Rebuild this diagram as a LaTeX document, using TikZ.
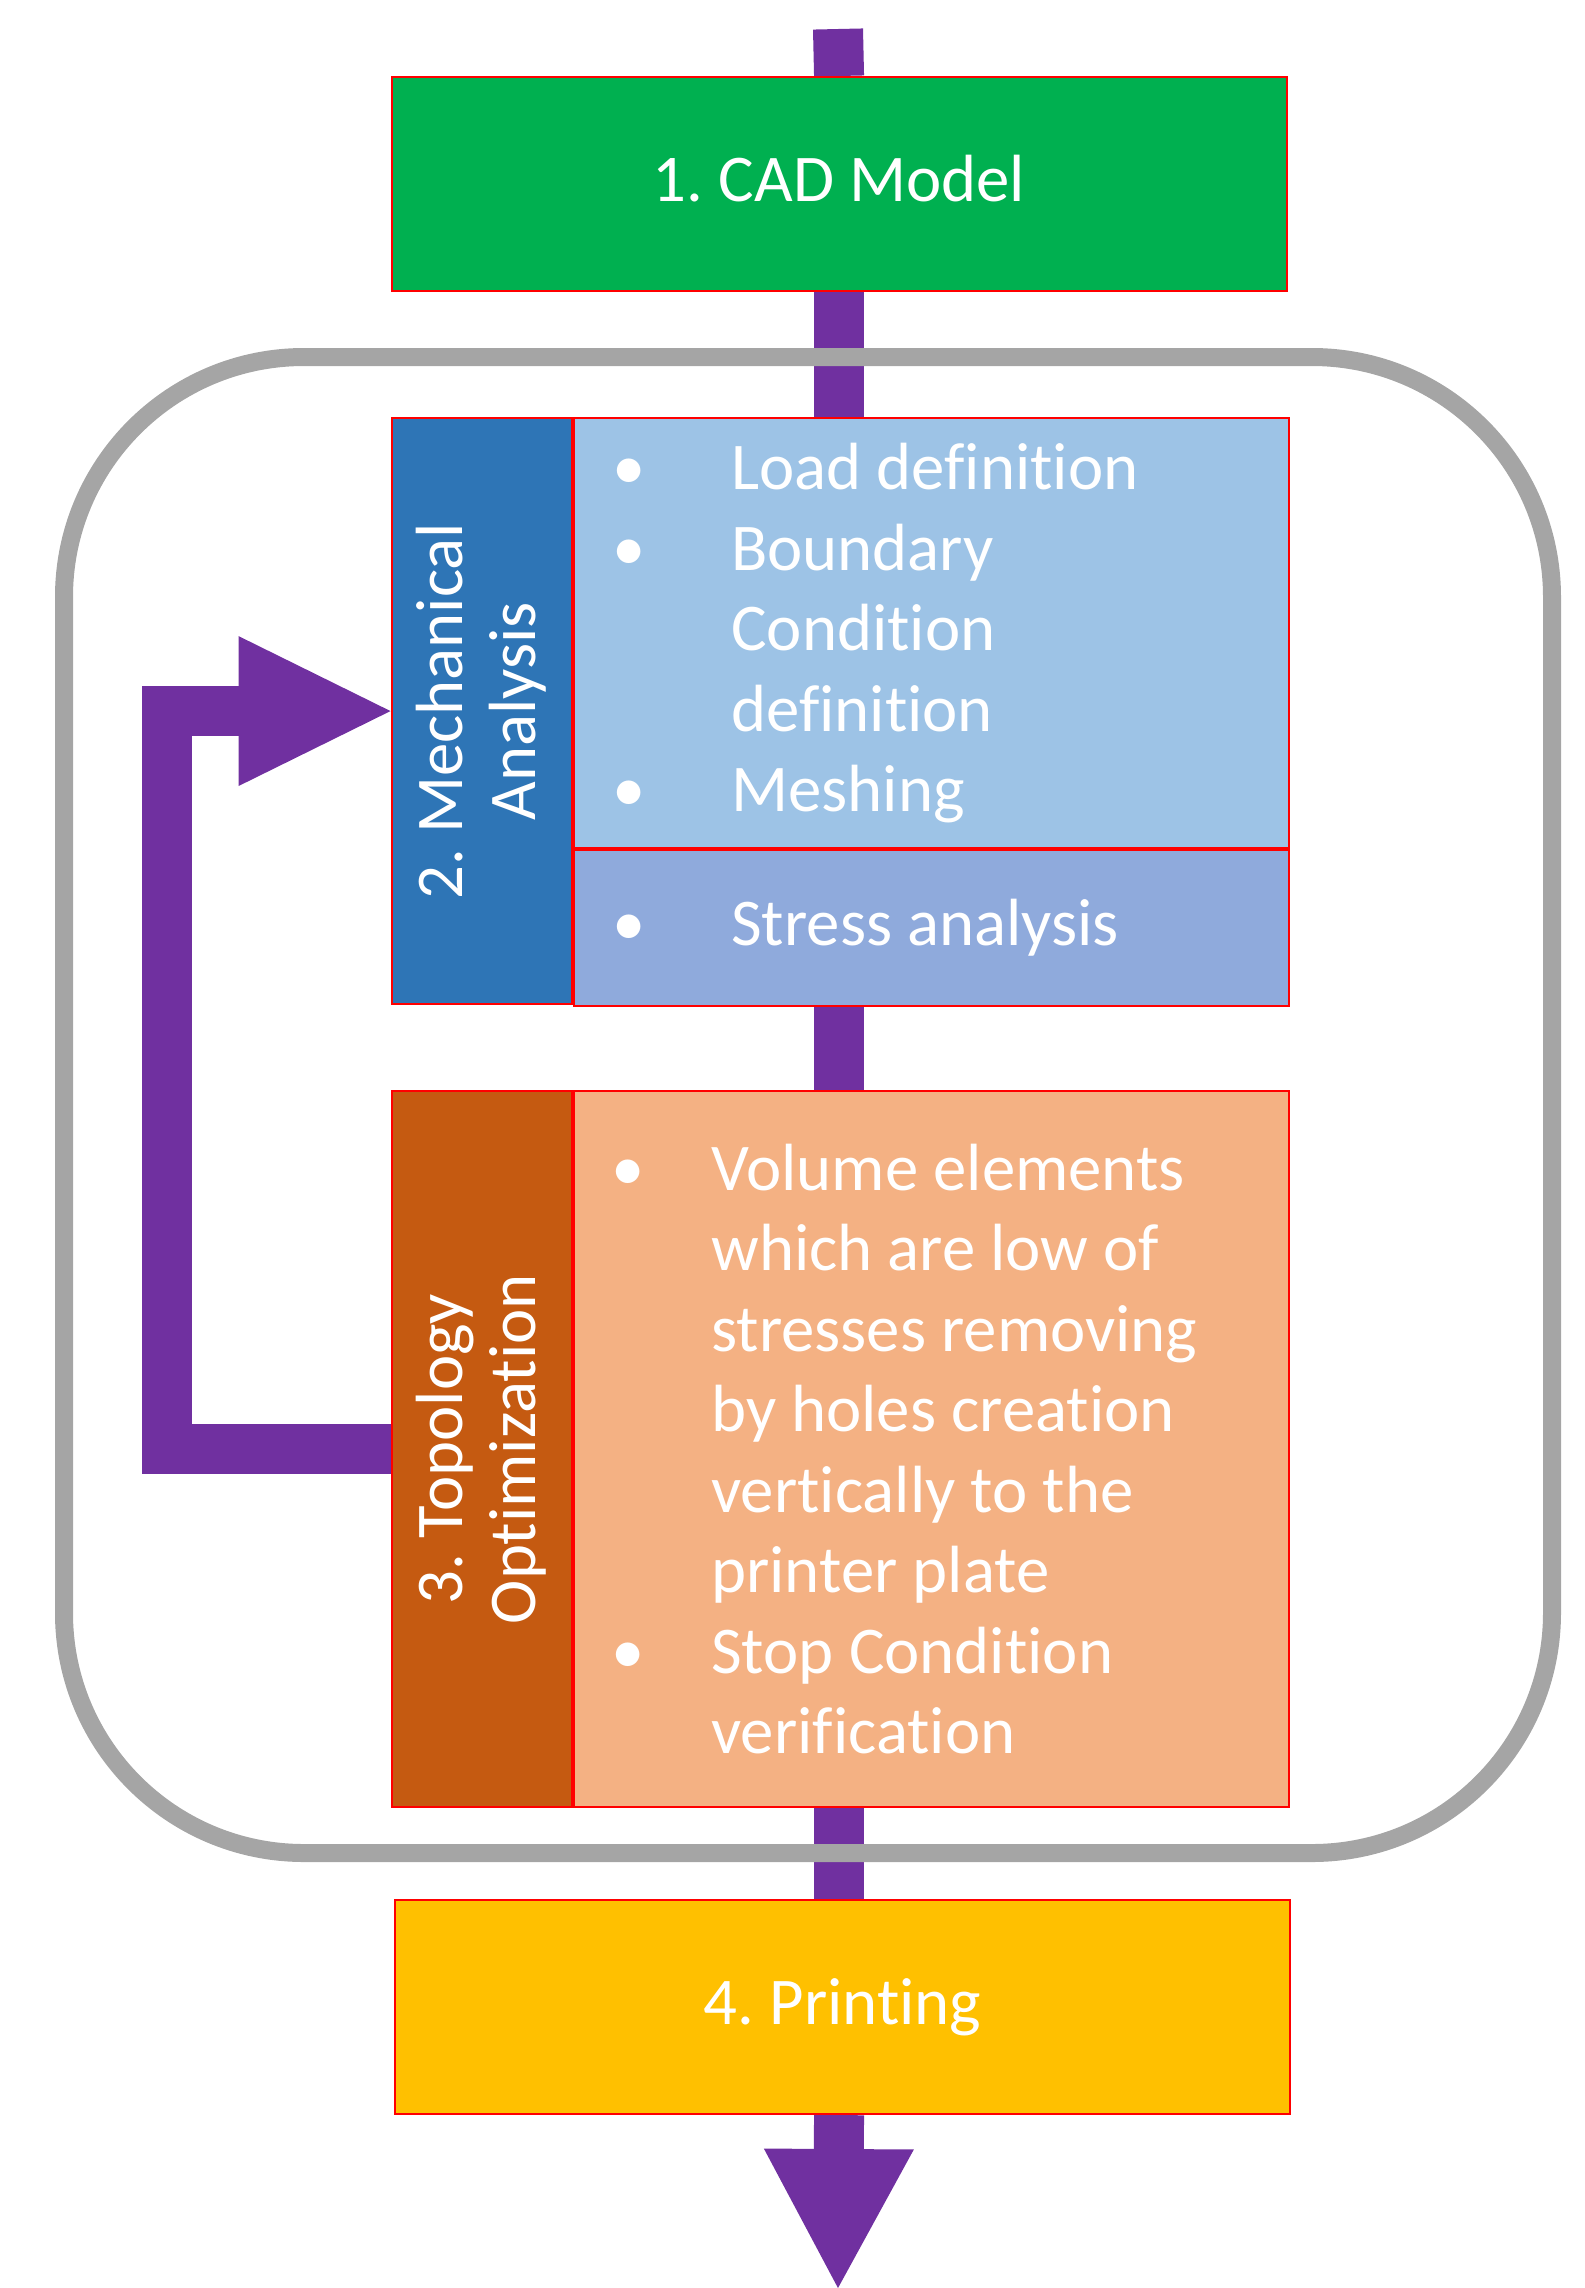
\documentclass[tikz,border=0pt]{standalone}
\usepackage{fontspec}
\setmainfont[Ligatures=NoCommon]{Carlito}
\usetikzlibrary{arrows.meta,positioning,backgrounds}
\frenchspacing

\definecolor{cadgreen}{HTML}{00B050}
\definecolor{mechblue}{HTML}{2E75B6}
\definecolor{loadblue}{HTML}{9DC3E6}
\definecolor{stressblue}{HTML}{8FAADC}
\definecolor{topoorange}{HTML}{C55A11}
\definecolor{holesorange}{HTML}{F4B183}
\definecolor{printyellow}{HTML}{FFC000}
\definecolor{flowpurple}{HTML}{7030A0}
\definecolor{framegray}{HTML}{A5A5A5}

% bullet hanging left of the item text
\newcommand{\itm}[1]{\llap{\makebox[0pt]{\textbullet}\hspace{#1}}}

\tikzset{
    stage/.style={draw=red, line width=0.6pt, rectangle, inner sep=0pt, anchor=north west, text=white},
    titled/.style={text height=0.55cm, text depth=0.21cm},
    sidelabel/.style={rotate=90, align=center, text=white, font=\fontsize{19}{20.8}\selectfont},
    items/.style={align=left, text=white, inner sep=0pt, anchor=west},
    flow/.style={draw=flowpurple, line width=5mm},
}

\begin{document}
\begin{tikzpicture}[font=\fontsize{19}{22.9}\selectfont]
    \useasboundingbox (0,0) rectangle (15.85,-22.88);

    %% stages
    \node[stage, titled, fill=cadgreen, minimum width=8.95cm, minimum height=2.14cm](cad) at (3.905,-0.76){1. CAD Model};

    \node[stage, fill=mechblue, minimum width=1.80cm, minimum height=5.86cm, label={[sidelabel]center:2. Mechanical\\Analysis}](mech) at (3.905,-4.17){};
    \node[stage, fill=loadblue, minimum width=7.15cm, minimum height=4.30cm](load) at (mech.north east){};
    \node[stage, fill=stressblue, minimum width=7.15cm, minimum height=1.56cm](stress) at (load.south west){};

    \node[stage, fill=topoorange, minimum width=1.80cm, minimum height=7.16cm, label={[sidelabel]center:3. Topology\\Optimization}](topo) at (3.905,-10.90){};
    \node[stage, fill=holesorange, minimum width=7.15cm, minimum height=7.16cm](holes) at (topo.north east){};

    \node[stage, titled, fill=printyellow, minimum width=8.95cm, minimum height=2.14cm](print) at (3.94,-18.99){4. Printing};

    %% item lists
    \node[items](loadtext) at ([xshift=1.58cm]load.west){\itm{1.02cm}Load definition\\
        \itm{1.02cm}Boundary\\
        Condition\\
        definition\\
        \itm{1.02cm}Meshing};
    \node[items](stresstext) at ([xshift=1.58cm]stress.west){\itm{1.02cm}Stress analysis};
    \node[items](holestext) at ([xshift=1.38cm]holes.west){\itm{0.83cm}Volume elements\\
        which are low of\\
        stresses removing\\
        by holes creation\\
        vertically to the\\
        printer plate\\
        \itm{0.83cm}Stop Condition\\
        verification};

    %% main flow, behind the stages
    \coordinate (feed) at (8.38,-0.29);
    \coordinate (out) at (8.38,-22.88);
    \begin{scope}[on background layer]
        \draw[flow] (feed) -- (cad.north);
        \draw[flow] (cad.south) -- (cad.south |- load.north);
        \draw[flow] (cad.south |- stress.south) -- (cad.south |- holes.north);
        \draw[flow] (cad.south |- holes.south) -- (cad.south |- print.north);
        \draw[flow, -{Triangle[length=13.9mm, width=15mm, line width=0pt]}] (cad.south |- print.south) -- (out);

        % loop frame
        \draw[framegray, line width=1.8mm, rounded corners=2.4cm] (0.64,-3.57) rectangle (15.52,-18.53);
    \end{scope}

    %% iteration back to the analysis
    \draw[flow, -{Triangle[length=15.2mm, width=15mm, line width=0pt]}] (topo.west) -- ++(-2.24,0) |- (mech.west);
\end{tikzpicture}
\end{document}
